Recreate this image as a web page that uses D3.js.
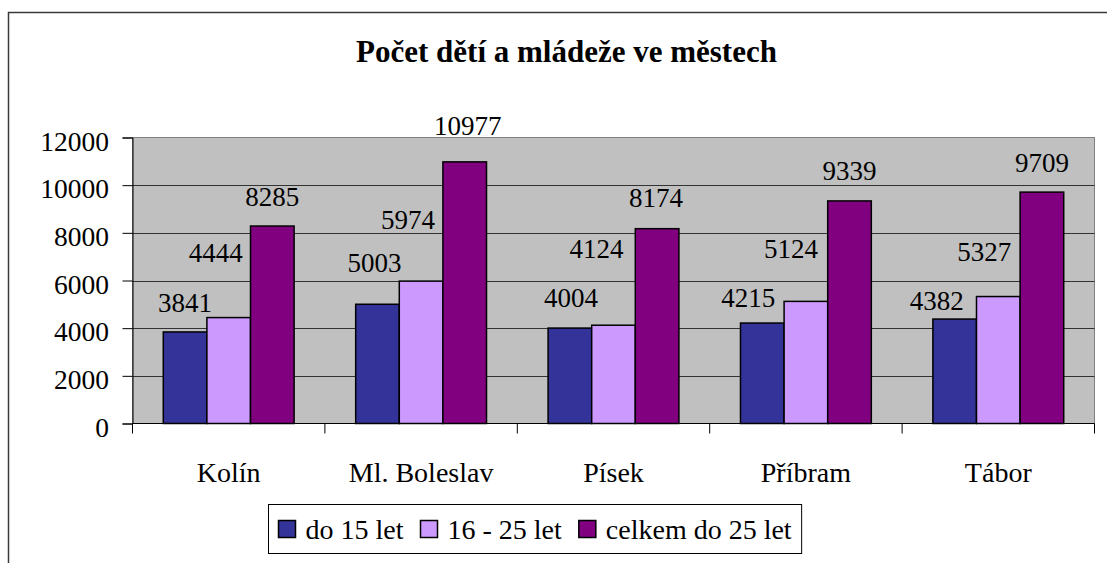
<!DOCTYPE html>
<html>
<head>
<meta charset="utf-8">
<script src="https://cdn.jsdelivr.net/npm/d3@7/dist/d3.min.js"></script>
</head>
<body style="margin:0">
<svg id="chart" width="1107" height="563"></svg>
<script>
    const cities = ['Kolín', 'Ml. Boleslav', 'Písek', 'Příbram', 'Tábor'];
    const seriesNames = ['do 15 let', '16 - 25 let', 'celkem do 25 let'];
    const under15 = [3841, 5003, 4004, 4215, 4382];
    const from16to25 = [4444, 5974, 4124, 5124, 5327];
    const totalUnder25 = [8285, 10977, 8174, 9339, 9709];
    const yTicks = [0, 2000, 4000, 6000, 8000, 10000, 12000];

    // label nudges (dx, dy) from the default spot above each bar, per city per series
    const labelNudge = [
        [[0, 0], [-13, -36], [0, 0]],
        [[-3, -12], [-13, -32], [3, -7]],
        [[1, -1], [-17, -47], [-1, -2]],
        [[-14, 4], [-15, -23], [0, -1]],
        [[-18, 11], [-14, -16], [0, 0]]
    ];

    const colors = ['#333399', '#CC99FF', '#800080'];
    const values = [under15, from16to25, totalUnder25];
    const font = "'Liberation Serif'";

    const plot = {left: 132.5, right: 1094.5, top: 137.5, bottom: 423.5};

    const svg = d3.select('#chart');

    // outer chart frame
    svg.append('rect')
        .attr('x', 8.5).attr('y', 12.5)
        .attr('width', 1120).attr('height', 600)
        .attr('fill', 'none')
        .attr('stroke', '#3a3a3a')
        .attr('stroke-width', 1.5);

    svg.append('text')
        .attr('x', 566.5).attr('y', 62)
        .attr('text-anchor', 'middle')
        .style('font-family', font)
        .style('font-size', '31px')
        .style('font-weight', 'bold')
        .text('Počet dětí a mládeže ve městech');

    const x0 = d3.scaleBand()
        .domain(cities)
        .range([plot.left, plot.right])
        .padding(0);

    const gap = x0.bandwidth() * 0.16;
    const x1 = d3.scaleBand()
        .domain(d3.range(seriesNames.length))
        .range([gap, x0.bandwidth() - gap])
        .padding(0);

    const y = d3.scaleLinear()
        .domain([0, 12000])
        .range([plot.bottom, plot.top]);

    // plot background
    svg.append('rect')
        .attr('x', plot.left).attr('y', plot.top)
        .attr('width', plot.right - plot.left)
        .attr('height', plot.bottom - plot.top)
        .attr('fill', '#C0C0C0')
        .attr('stroke', '#808080')
        .attr('stroke-width', 1);

    // gridlines
    svg.append('g')
        .selectAll('line')
        .data(yTicks.filter(t => t > 0 && t < 12000))
        .join('line')
        .attr('x1', plot.left).attr('x2', plot.right)
        .attr('y1', d => Math.round(y(d)) + 0.5)
        .attr('y2', d => Math.round(y(d)) + 0.5)
        .attr('stroke', '#333')
        .attr('stroke-width', 1);

    // bars
    const rows = cities.map((c, i) => ({city: c, i: i}));
    const groups = svg.append('g')
        .selectAll('g')
        .data(rows)
        .join('g')
        .attr('transform', d => 'translate(' + x0(d.city) + ',0)');

    groups.selectAll('rect')
        .data(d => values.map((v, s) => ({s: s, v: v[d.i], i: d.i})))
        .join('rect')
        .attr('x', d => x1(d.s))
        .attr('y', d => y(d.v))
        .attr('width', x1.bandwidth())
        .attr('height', d => y(0) - y(d.v))
        .attr('fill', d => colors[d.s])
        .attr('stroke', '#000')
        .attr('stroke-width', 1.5);

    groups.selectAll('text')
        .data(d => values.map((v, s) => ({s: s, v: v[d.i], i: d.i})))
        .join('text')
        .attr('x', d => x1(d.s) + x1.bandwidth() / 2 + labelNudge[d.i][d.s][0])
        .attr('y', d => y(d.v) - 20 + labelNudge[d.i][d.s][1])
        .attr('text-anchor', 'middle')
        .style('font-family', font)
        .style('font-size', '27px')
        .text(d => d.v);

    // y axis
    const yAxis = d3.axisLeft(y)
        .tickValues(yTicks)
        .tickSize(10)
        .tickPadding(13.5)
        .tickFormat(d3.format('d'));

    svg.append('g')
        .attr('transform', 'translate(' + plot.left + ',0)')
        .call(yAxis)
        .attr('font-family', null)
        .attr('font-size', null)
        .call(g => g.select('.domain').attr('stroke', '#000'))
        .call(g => g.selectAll('.tick line').attr('stroke', '#000'))
        .call(g => g.selectAll('.tick text')
            .attr('dy', '0.46em')
            .attr('fill', '#000')
            .style('font-size', '27.5px')
            .style('font-family', font));

    // x axis line with ticks at category boundaries
    const xg = svg.append('g');
    xg.append('line')
        .attr('x1', plot.left).attr('x2', plot.right)
        .attr('y1', plot.bottom).attr('y2', plot.bottom)
        .attr('stroke', '#000');
    const bounds = cities.map(c => x0(c)).concat([x0.range()[1]]);
    xg.selectAll('line.tk')
        .data(bounds)
        .join('line')
        .attr('class', 'tk')
        .attr('x1', d => d).attr('x2', d => d)
        .attr('y1', plot.bottom).attr('y2', plot.bottom + 10)
        .attr('stroke', '#000');
    xg.selectAll('text')
        .data(cities)
        .join('text')
        .attr('x', d => x0(d) + x0.bandwidth() / 2)
        .attr('y', plot.bottom + 58.5)
        .attr('text-anchor', 'middle')
        .style('font-family', font)
        .style('font-size', '28px')
        .text(d => d);

    // legend
    const legend = svg.append('g');
    const lx = 268.5, ly = 504.5;
    const box = legend.append('rect')
        .attr('x', lx).attr('y', ly)
        .attr('height', 49)
        .attr('fill', '#fff')
        .attr('stroke', '#000');
    let cx = lx + 10;
    let lastEnd = cx;
    seriesNames.forEach((name, s) => {
        legend.append('rect')
            .attr('x', cx).attr('y', ly + 16)
            .attr('width', 17).attr('height', 17)
            .attr('fill', colors[s])
            .attr('stroke', '#000')
            .attr('stroke-width', 1.5);
        const t = legend.append('text')
            .attr('x', cx + 27).attr('y', ly + 34.5)
            .style('font-family', font)
            .style('font-size', '28px')
            .text(name);
        lastEnd = cx + 27 + t.node().getComputedTextLength();
        cx = lastEnd + 17;
    });
    box.attr('width', lastEnd + 10 - lx);
</script>
</body>
</html>
